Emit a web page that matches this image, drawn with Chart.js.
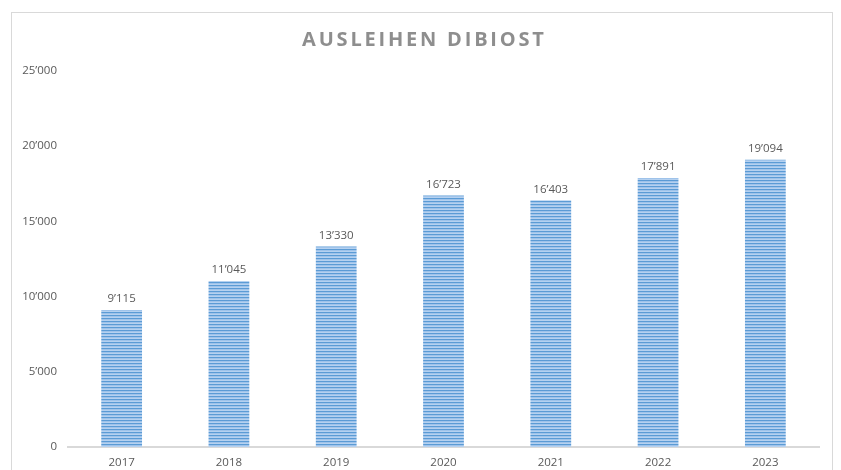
<!DOCTYPE html>
<html>
<head>
<meta charset="utf-8">
<script src="https://cdn.jsdelivr.net/npm/chart.js@4.4.1/dist/chart.umd.min.js"></script>
<style>
    html, body { margin: 0; padding: 0; background: #fff; overflow: hidden; }
    #wrap { position: relative; width: 841px; height: 470px; }
    #frame { position: absolute; left: 11px; top: 12px; width: 822px; height: 480px; border: 1px solid #d9d9d9; box-sizing: border-box; }
    #chart { position: absolute; left: 0; top: 0; }
</style>
</head>
<body>
<div id="wrap">
    <div id="frame"></div>
    <canvas id="chart" width="841" height="470"></canvas>
</div>
<script>
// Daten
const chartTitle = 'AUSLEIHEN DIBIOST';
const years = ['2017', '2018', '2019', '2020', '2021', '2022', '2023'];
const ausleihen = [9115, 11045, 13330, 16723, 16403, 17891, 19094];
const yTicks = [0, 5000, 10000, 15000, 20000, 25000];

// Tausender mit Apostroph
function fmt(v) {
    return String(v).replace(/\B(?=(\d{3})+(?!\d))/g, '\u2019');
}

// Streifenmuster für die Balken
function stripePattern(ctx) {
    const c = document.createElement('canvas');
    c.width = 1;
    c.height = 3;
    const p = c.getContext('2d');
    const rows = ['#5b9bd5', '#9fc3ea', '#b5d1f0'];
    rows.forEach((col, i) => {
        p.fillStyle = col;
        p.fillRect(0, i, 1, 1);
    });
    return ctx.createPattern(c, 'repeat');
}

// Titel mit Sperrung (Chart.js-Titel kennt kein letterSpacing)
const spacedTitle = {
    id: 'spacedTitle',
    afterDraw(chart) {
        const ctx = chart.ctx;
        const spacing = 2.8;
        ctx.save();
        ctx.font = 'bold 20px "Open Sans"';
        ctx.letterSpacing = spacing + 'px';
        ctx.fillStyle = '#8e8e8e';
        ctx.textAlign = 'center';
        ctx.textBaseline = 'middle';
        ctx.fillText(chartTitle, 423 + spacing / 2, 40);
        ctx.restore();
    }
};

// Werte über den Balken
const valueLabels = {
    id: 'valueLabels',
    afterDatasetsDraw(chart) {
        const ctx = chart.ctx;
        const meta = chart.getDatasetMeta(0);
        ctx.save();
        ctx.font = '11.5px "Open Sans"';
        ctx.fillStyle = '#595959';
        ctx.textAlign = 'center';
        ctx.textBaseline = 'bottom';
        meta.data.forEach((bar, i) => {
            ctx.fillText(fmt(ausleihen[i]), bar.x, bar.y - 5);
        });
        ctx.restore();
    }
};

const ctx = document.getElementById('chart').getContext('2d');
new Chart(ctx, {
    type: 'bar',
    data: {
        labels: years,
        datasets: [{
            data: ausleihen,
            backgroundColor: stripePattern(ctx),
            borderWidth: 0,
            categoryPercentage: 1,
            barPercentage: 0.38
        }]
    },
    options: {
        responsive: false,
        animation: false,
        layout: { padding: { left: 0, right: 22, top: 71, bottom: 0 } },
        plugins: {
            legend: { display: false },
            tooltip: { enabled: false },
            title: { display: false }
        },
        scales: {
            x: {
                grid: { display: false, drawTicks: false },
                border: { display: true, color: '#d9d9d9', width: 2 },
                ticks: {
                    color: '#595959',
                    font: { family: '"Open Sans"', size: 11.5 },
                    padding: 9
                },
                afterFit(scale) { scale.height = 23; }
            },
            y: {
                min: 0,
                max: 25000,
                afterBuildTicks(scale) {
                    scale.ticks = yTicks.map(v => ({ value: v }));
                },
                grid: { display: false, drawTicks: false },
                border: { display: false },
                ticks: {
                    color: '#595959',
                    font: { family: '"Open Sans"', size: 11.5 },
                    padding: 11,
                    callback: v => fmt(v)
                },
                afterFit(scale) { scale.width = 68; }
            }
        }
    },
    plugins: [valueLabels, spacedTitle]
});
</script>
</body>
</html>
